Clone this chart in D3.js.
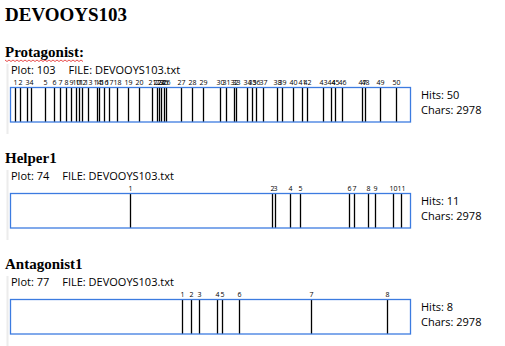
<!DOCTYPE html>
<html>
<head>
<meta charset="utf-8">
<script src="https://cdn.jsdelivr.net/npm/d3@7"></script>
<style>
  body { margin: 0; background: #fff; }
  .title { font-family: "Liberation Serif", serif; font-weight: bold; }
  .info { font-family: "Open Sans", sans-serif; font-size: 11px; fill: #000; }
  .hitLabel { font-family: "Open Sans", sans-serif; font-size: 7px; fill: #000; }
</style>
</head>
<body>
<div class="chart"></div>
<script>
var svgWidth = 505;
var svgHeight = 346;

// character offsets of every hit
var protagonistHits = [30, 67, 119, 149, 254, 321, 366, 410, 448, 485, 508, 530, 575, 642, 657, 694, 731, 791, 873, 955,
  1052, 1090, 1105, 1120, 1142, 1157, 1269, 1351, 1433, 1560, 1605, 1664, 1679, 1761, 1799, 1829, 1881, 1985, 2023, 2105,
  2172, 2209, 2329, 2388, 2418, 2470, 2620, 2642, 2754, 2873];
var helperHits = [886, 1951, 1973, 2085, 2159, 2524, 2561, 2665, 2717, 2851, 2911];
var antagonistHits = [1273, 1340, 1400, 1534, 1578, 1705, 2241, 2807];

var plotNames = ["Protagonist:", "Helper1", "Antagonist1"];
var plotNumbers = [103, 74, 77];
var fileName = "DEVOOYS103.txt";
var docTitle = "DEVOOYS103";
var totalChars = 2978;

var allHits = [protagonistHits, helperHits, antagonistHits];

var svg = d3.select(".chart")
  .append("svg")
  .attr("width", svgWidth)
  .attr("height", svgHeight);

svg.append("text")
  .attr("class", "title")
  .attr("x", 5)
  .attr("y", 21)
  .style("font-size", "19px")
  .text(docTitle);

var xScale = d3.scaleLinear()
  .domain([0, totalChars])
  .range([11, 410]);

var stripHeight = 34.5;

plotNames.forEach(function(name, i) {
  var top = 57 + i * 106;
  var stripTop = top + 30.5;
  var g = svg.append("g");

  // faint bar down the left side of the block
  g.append("rect")
    .attr("x", 6.5)
    .attr("y", top + 7)
    .attr("width", 2)
    .attr("height", 70)
    .attr("fill", "#ececec");

  var heading = g.append("text")
    .attr("class", "title")
    .attr("x", 5)
    .attr("y", top)
    .style("font-size", "15px")
    .text(name);

  // spell check squiggle under the first heading
  if (i === 0) {
    var w = heading.node().getComputedTextLength();
    var pts = [];
    for (var px = 5; px <= 5 + w; px += 2) {
      pts.push([px, top + 3 + ((px - 5) / 2 % 2 === 0 ? 0 : 1.5)]);
    }
    g.append("path")
      .attr("d", d3.line()(pts))
      .attr("fill", "none")
      .attr("stroke", "#e02020")
      .attr("stroke-width", 0.8);
  }

  var plotText = g.append("text")
    .attr("class", "info")
    .attr("x", 11)
    .attr("y", top + 17)
    .text("Plot: " + plotNumbers[i]);

  g.append("text")
    .attr("class", "info")
    .attr("x", 11 + plotText.node().getComputedTextLength() + 13)
    .attr("y", top + 17)
    .text("FILE: " + fileName);

  // hit lines
  g.selectAll("line.hit")
    .data(allHits[i])
    .enter()
    .append("line")
    .attr("class", "hit")
    .attr("x1", d => Math.round(xScale(d)) + 0.5)
    .attr("x2", d => Math.round(xScale(d)) + 0.5)
    .attr("y1", stripTop)
    .attr("y2", stripTop + stripHeight)
    .attr("stroke", "#000")
    .attr("stroke-width", 1.3);

  g.selectAll("text.hitLabel")
    .data(allHits[i])
    .enter()
    .append("text")
    .attr("class", "hitLabel")
    .attr("x", d => Math.round(xScale(d)) + 0.5)
    .attr("y", stripTop - 2.5)
    .attr("text-anchor", "middle")
    .text((d, j) => j + 1);

  g.append("rect")
    .attr("x", 10.5)
    .attr("y", stripTop)
    .attr("width", 400)
    .attr("height", stripHeight)
    .attr("fill", "none")
    .attr("stroke", "#3c7be0")
    .attr("stroke-width", 1.3);

  g.append("text")
    .attr("class", "info")
    .attr("x", 421)
    .attr("y", stripTop + 11)
    .text("Hits: " + allHits[i].length);

  g.append("text")
    .attr("class", "info")
    .attr("x", 421)
    .attr("y", stripTop + 26)
    .text("Chars: " + totalChars);
});
</script>
</body>
</html>
